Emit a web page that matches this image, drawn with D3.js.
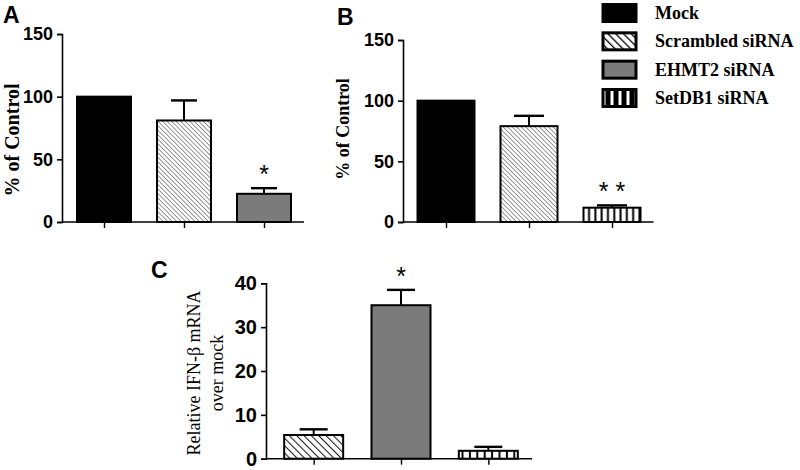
<!DOCTYPE html>
<html><head><meta charset="utf-8">
<script src="https://cdn.jsdelivr.net/npm/d3@7"></script>
<style>body{margin:0;background:#fff}</style>
</head><body>
<svg id="chart" width="800" height="470"></svg>
<script>
// ---- data ----
const legendLabels = ["Mock", "Scrambled siRNA", "EHMT2 siRNA", "SetDB1 siRNA"];
const legendFills = ["black", "hatch", "gray", "vstripe"];

const panelACats = ["Mock", "Scrambled siRNA", "EHMT2 siRNA"];
const panelAValues = [100, 81, 22.5];
const panelAErrors = [0, 16, 4.5];
const panelASig = ["", "", "*"];

const panelBCats = ["Mock", "Scrambled siRNA", "SetDB1 siRNA"];
const panelBValues = [100, 79, 11.8];
const panelBErrors = [0, 8.5, 1.9];
const panelBSig = ["", "", "* *"];

const panelCCats = ["Scrambled siRNA", "EHMT2 siRNA", "SetDB1 siRNA"];
const panelCValues = [5.4, 35, 1.8];
const panelCErrors = [1.3, 3.5, 0.9];
const panelCSig = ["", "*", ""];

const yTicksAB = [0, 50, 100, 150];
const yTicksC = [0, 10, 20, 30, 40];

const svg = d3.select("#chart");
const defs = svg.append("defs");

function hatch(id, spacing, color, width) {
  const p = defs.append("pattern").attr("id", id).attr("patternUnits", "userSpaceOnUse")
    .attr("width", spacing).attr("height", spacing).attr("patternTransform", "rotate(-45)");
  p.append("rect").attr("width", spacing).attr("height", spacing).attr("fill", "white");
  p.append("line").attr("x1", 0).attr("y1", 0).attr("x2", 0).attr("y2", spacing)
    .attr("stroke", color).attr("stroke-width", width);
}
function vstripe(id, spacing, color, width, bg) {
  const p = defs.append("pattern").attr("id", id).attr("patternUnits", "userSpaceOnUse")
    .attr("width", spacing).attr("height", 40);
  p.append("rect").attr("width", spacing).attr("height", 40).attr("fill", bg);
  p.append("line").attr("x1", spacing / 2).attr("y1", 0).attr("x2", spacing / 2).attr("y2", 40)
    .attr("stroke", color).attr("stroke-width", width);
}
hatch("hatchAB", 3.2, "#555", 1.2);
hatch("hatchC", 5.2, "#111", 2);
hatch("hatchL", 5.5, "#000", 2.6);
vstripe("vsB", 6.3, "#000", 2, "white");
vstripe("vsC", 7.4, "#000", 2, "white");
vstripe("vsL", 8, "white", 3, "black");

const grayFill = "#7b7b7b";
function fillFor(cat, panel) {
  if (cat === "Mock") return "#000";
  if (cat === "EHMT2 siRNA") return grayFill;
  if (cat === "Scrambled siRNA") return panel === "C" ? "url(#hatchC)" : "url(#hatchAB)";
  if (cat === "SetDB1 siRNA") return panel === "C" ? "url(#vsC)" : "url(#vsB)";
}

function panel(cfg) {
  const g = svg.append("g");
  const x = d3.scalePoint().domain(cfg.cats).range(cfg.xRange).padding(0.5);
  const y = d3.scaleLinear().domain(cfg.yDomain).range(cfg.yRange);
  const axisX = cfg.xRange[0] - cfg.axisOffset;

  const ya = g.append("g").attr("transform", `translate(${axisX},0)`)
    .call(d3.axisLeft(y).tickValues(cfg.yTicks).tickSize(5).tickPadding(4).tickFormat(d3.format("d")));
  ya.select(".domain").attr("stroke", "#000").attr("stroke-width", 1.6);
  ya.selectAll(".tick line").attr("stroke", "#000").attr("stroke-width", 1.6);
  ya.selectAll("text").attr("font-family", "Liberation Sans, Arial, sans-serif")
    .attr("font-weight", "bold").attr("font-size", cfg.tickFont).attr("fill", "#000");

  const xa = g.append("g").attr("transform", `translate(0,${y(0)})`)
    .call(d3.axisBottom(x).tickSize(6).tickFormat(""));
  xa.select(".domain").attr("d", `M${axisX},0H${cfg.xRange[1]}`).attr("stroke", "#000").attr("stroke-width", 1.6);
  xa.selectAll(".tick line").attr("stroke", "#000").attr("stroke-width", 1.4);

  const data = cfg.cats.map((c, i) => ({ c, v: cfg.values[i], e: cfg.errors[i], s: cfg.sig[i] }));
  const bw = cfg.barWidth;

  const eb = g.selectAll(".eb").data(data.filter(d => d.e > 0)).enter().append("g");
  eb.append("line").attr("x1", d => x(d.c)).attr("x2", d => x(d.c))
    .attr("y1", d => y(d.v)).attr("y2", d => y(d.v + d.e)).attr("stroke", "#000").attr("stroke-width", 2);
  eb.append("line").attr("x1", d => x(d.c) - cfg.cap / 2).attr("x2", d => x(d.c) + cfg.cap / 2)
    .attr("y1", d => y(d.v + d.e)).attr("y2", d => y(d.v + d.e)).attr("stroke", "#000").attr("stroke-width", 2.4);

  g.selectAll(".bar").data(data).enter().append("rect")
    .attr("x", d => x(d.c) - bw / 2).attr("width", bw)
    .attr("y", d => y(d.v)).attr("height", d => y(0) - y(d.v))
    .attr("fill", d => fillFor(d.c, cfg.name)).attr("stroke", "#000").attr("stroke-width", 2);

  g.selectAll(".sig").data(data.filter(d => d.s)).enter().append("text")
    .attr("x", d => x(d.c)).attr("y", d => y(d.v + d.e) - 5)
    .attr("text-anchor", "middle").attr("font-family", "Liberation Sans, Arial, sans-serif")
    .attr("font-size", 25).attr("fill", "#000").text(d => d.s);

  const yl = g.append("text").attr("transform", `translate(${cfg.yLabelX},${cfg.yLabelY}) rotate(-90)`)
    .attr("text-anchor", "middle").attr("font-family", "Liberation Serif, Times New Roman, serif")
    .attr("font-size", cfg.yLabelFont).attr("font-weight", cfg.yLabelWeight).attr("fill", "#000");
  cfg.yLabel.forEach((t, i) => yl.append("tspan").attr("x", 0).attr("dy", i === 0 ? 0 : "1.25em").text(t));

  g.append("text").attr("x", cfg.letterX).attr("y", cfg.letterY)
    .attr("font-family", "Liberation Sans, Arial, sans-serif").attr("font-weight", "bold")
    .attr("font-size", 23).attr("fill", "#000").text(cfg.letter);
}

panel({ name: "A", cats: panelACats, values: panelAValues, errors: panelAErrors, sig: panelASig,
  xRange: [64, 304], axisOffset: 2, yDomain: [0, 150], yRange: [222, 34], yTicks: yTicksAB, tickFont: 18,
  barWidth: 54, cap: 26, yLabel: ["% of Control"], yLabelX: 19, yLabelY: 140, yLabelFont: 20, yLabelWeight: "bold",
  letter: "A", letterX: 3, letterY: 23 });

panel({ name: "B", cats: panelBCats, values: panelBValues, errors: panelBErrors, sig: panelBSig,
  xRange: [404.5, 653.5], axisOffset: 1.5, yDomain: [0, 150], yRange: [222, 40], yTicks: yTicksAB, tickFont: 18,
  barWidth: 57, cap: 30, yLabel: ["% of Control"], yLabelX: 349, yLabelY: 129, yLabelFont: 18, yLabelWeight: "bold",
  letter: "B", letterX: 337, letterY: 25 });

panel({ name: "C", cats: panelCCats, values: panelCValues, errors: panelCErrors, sig: panelCSig,
  xRange: [270, 532], axisOffset: 4, yDomain: [0, 40], yRange: [458.7, 283.3], yTicks: yTicksC, tickFont: 20,
  barWidth: 59, cap: 28, yLabel: ["Relative IFN-β mRNA", "over mock"], yLabelX: 200, yLabelY: 373, yLabelFont: 18, yLabelWeight: "normal",
  letter: "C", letterX: 151, letterY: 278 });

const legY = d3.scalePoint().domain(legendLabels).range([13, 98]);
const lg = svg.append("g");
const legendFillMap = { black: "#000", hatch: "url(#hatchL)", gray: grayFill, vstripe: "url(#vsL)" };
const items = lg.selectAll(".li").data(legendLabels.map((l, i) => ({ l, f: legendFills[i] }))).enter().append("g")
  .attr("transform", d => `translate(0,${legY(d.l)})`);
items.append("rect").attr("x", 603).attr("y", -8.5).attr("width", 33).attr("height", 17)
  .attr("fill", d => legendFillMap[d.f]).attr("stroke", "#000").attr("stroke-width", 3);
items.append("text").attr("x", 655).attr("y", 6).attr("font-family", "Liberation Serif, Times New Roman, serif")
  .attr("font-weight", "bold").attr("font-size", 18).attr("fill", "#000").text(d => d.l);
</script>
</body></html>
